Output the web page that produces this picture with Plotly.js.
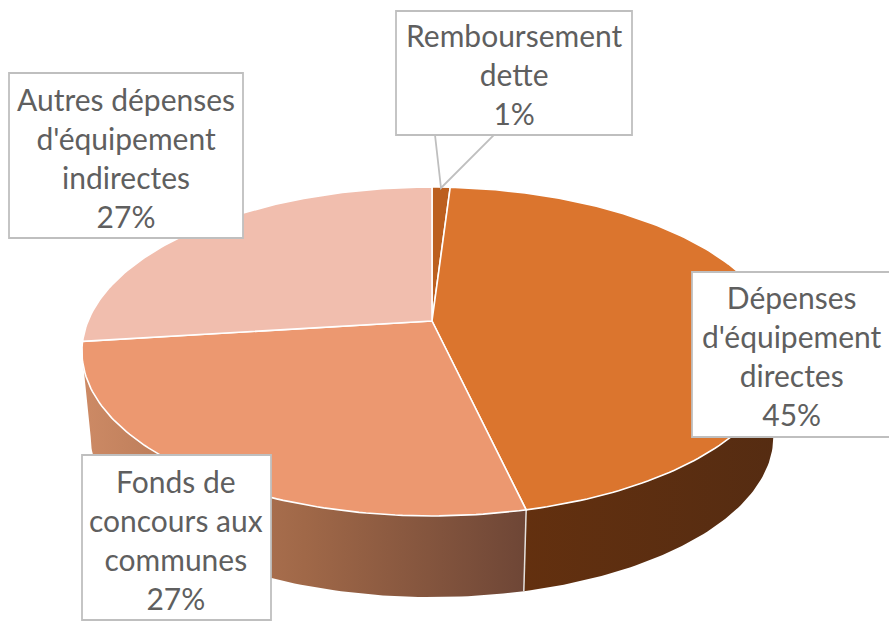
<!DOCTYPE html>
<html>
<head>
<meta charset="utf-8">
<script src="https://cdn.plot.ly/plotly-3.0.1.min.js"></script>
<style>html,body{margin:0;padding:0;background:#fff;overflow:hidden}#chart{width:889px;height:621px}</style>
</head>
<body>
<div id="chart"></div>
<script>
var categories = ["Remboursement<br>dette", "Dépenses<br>d'équipement<br>directes", "Fonds de<br>concours aux<br>communes", "Autres dépenses<br>d'équipement<br>indirectes"];
var values = [1.0, 45.4, 26.6, 27.0];
var faceColors = ["#BC5F1F", "#DB752E", "#EC9870", "#F1BEAE"];
var wallGradients = {
  1: [[0, "#63300F"], [1, "#552C12"]],
  2: [[0, "#CD8A65"], [0.5, "#A06848"], [1, "#6E4636"]]
};
var boxes = [[396, 11, 632, 135], [692, 272, 893, 437], [82, 455, 271, 620], [9, 73, 243, 238]];
var labelCenters = [[514, 74], [791.5, 355.5], [176, 539], [126, 157]];

// Perspective projection of the flat pie onto the page
var cx = 432, cyTop = 321, rx = 344, ry = 158.8, k = 0.1854;
var cyBottom = 407, bottomScale = 0.975;
function project(deg, cy, f) {
  var t = deg * Math.PI / 180, s = Math.sin(t), c = Math.cos(t), w = 1 + k * c;
  return [cx + f * rx * s / w, cy - f * ry * c / w];
}
function arc(a, b, cy, f) {
  var pts = [], n = Math.max(2, Math.ceil(Math.abs(b - a)));
  for (var i = 0; i <= n; i++) pts.push(project(a + (b - a) * i / n, cy, f));
  return pts;
}
var total = values.reduce(function (p, v) { return p + v; }, 0);
var angles = [0];
values.forEach(function (v, i) { angles.push(angles[i] + v / total * 360); });

var leftExtreme = 259.3, rightExtreme = 100.7;
var traces = [];
function wall(i, a, b) {
  var pts = arc(a, b, cyTop, 1).concat(arc(b, a, cyBottom, bottomScale));
  pts.push(pts[0]);
  traces.push({
    type: "scatter", mode: "lines", hoverinfo: "skip",
    x: pts.map(function (p) { return p[0]; }), y: pts.map(function (p) { return p[1]; }),
    fill: "toself", line: { width: 0, color: "rgba(0,0,0,0)" },
    fillgradient: { type: "horizontal", colorscale: wallGradients[i] }
  });
}
wall(1, rightExtreme, angles[2]);
wall(2, angles[2], leftExtreme);

// Seam between the two visible walls
var seamTop = project(angles[2], cyTop, 1), seamBottom = project(angles[2], cyBottom, bottomScale);
traces.push({
  type: "scatter", mode: "lines", hoverinfo: "skip",
  x: [seamTop[0], seamBottom[0]], y: [seamTop[1], seamBottom[1]],
  line: { color: "#E4E0DC", width: 1.5 }
});

values.forEach(function (v, i) {
  var pts = [[cx, cyTop]].concat(arc(angles[i], angles[i + 1], cyTop, 1));
  pts.push([cx, cyTop]);
  traces.push({
    type: "scatter", mode: "lines", hoverinfo: "skip",
    x: pts.map(function (p) { return p[0]; }), y: pts.map(function (p) { return p[1]; }),
    fill: "toself", fillcolor: faceColors[i], line: { color: "#FFFFFF", width: 1.6 }
  });
});

var shapes = [{
  type: "path", layer: "above", path: "M 435 135 L 441 188 L 494 135 Z",
  fillcolor: "rgba(255,255,255,0)", line: { color: "#BFBFBF", width: 1.8 }
}];
boxes.forEach(function (b) {
  shapes.push({
    type: "rect", layer: "above", x0: b[0], y0: b[1], x1: b[2], y1: b[3],
    fillcolor: "#FFFFFF", line: { color: "#BFBFBF", width: 1.8 }
  });
});

var annotations = categories.map(function (name, i) {
  return {
    x: labelCenters[i][0], y: labelCenters[i][1], xref: "x", yref: "y",
    showarrow: false, xanchor: "center", yanchor: "middle", align: "center",
    font: { family: "Lato, 'Open Sans', sans-serif", size: 30, color: "#5F5F5F" },
    text: name + "<br>" + Math.round(values[i]) + "%"
  };
});

Plotly.newPlot("chart", traces, {
  width: 889, height: 621, margin: { l: 0, r: 0, t: 0, b: 0 },
  paper_bgcolor: "#FFFFFF", plot_bgcolor: "#FFFFFF", showlegend: false,
  xaxis: { range: [0, 889], visible: false, fixedrange: true },
  yaxis: { range: [621, 0], visible: false, fixedrange: true },
  shapes: shapes, annotations: annotations
}, { displayModeBar: false, staticPlot: true });
</script>
</body>
</html>
